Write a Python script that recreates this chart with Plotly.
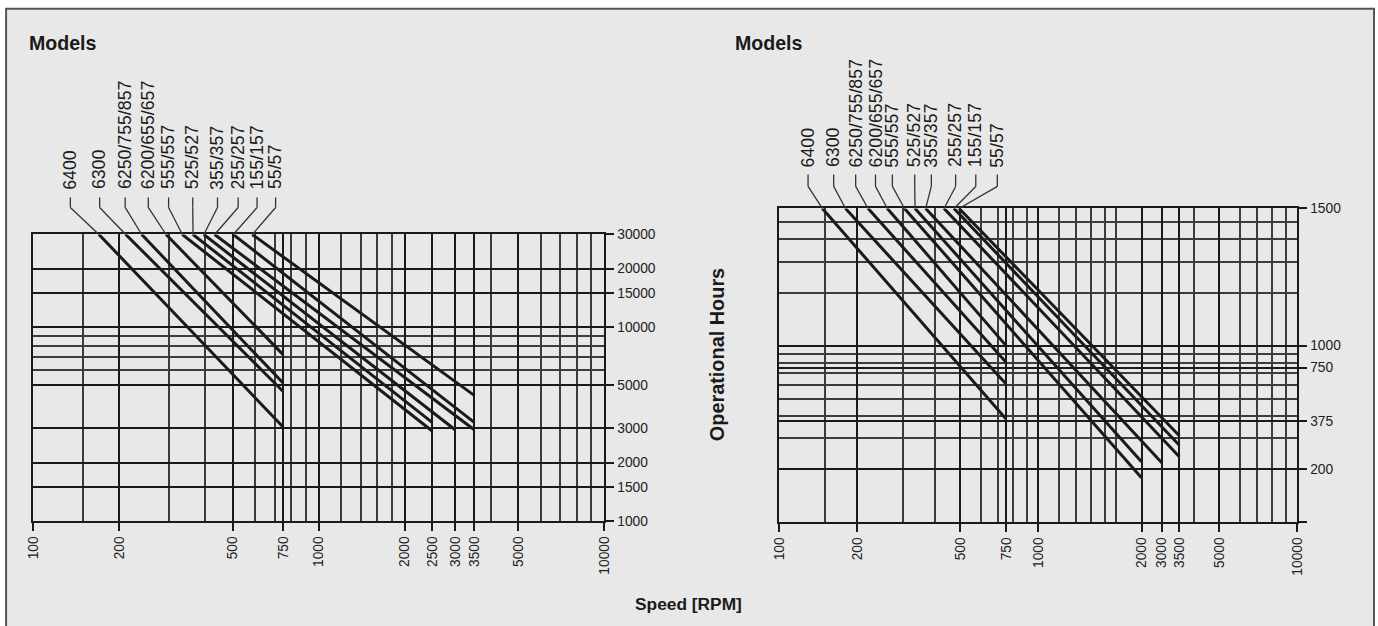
import math
import plotly.graph_objects as go

# The capture is a 1394x642 area with the page offset by 8px, shrunk to
# 1378x626.  Positions below are given in reference pixels and mapped back.
SX, SY = 1394 / 1378, 642 / 626
OFF = 8
W, H = 1386, 634
FS = 1.02

MODELS = ["6400", "6300", "6250/755/857", "6200/655/657", "555/557",
          "525/527", "355/357", "255/257", "155/157", "55/57"]

# left chart: life lines (rpm, hours)
LEFT_START_RPM = [170, 211, 240, 292, 333, 363, 396, 432, 502, 585]
LEFT_START_HRS = [30000] * 10
LEFT_END_RPM = [750, 750, 750, 750, 2500, 2500, 3000, 3500, 3500, 3500]
LEFT_END_HRS = [3050, 4650, 5140, 7200, 2900, 3210, 2950, 2950, 3220, 4440]

# right chart
RIGHT_START_RPM = [146.5, 180, 220, 261, 304, 334, 367, 432, 472, 494]
RIGHT_START_HRS = [6000] * 10
RIGHT_END_RPM = [750, 750, 750, 750, 2500, 2500, 3000, 3500, 3500, 3500]
RIGHT_END_HRS = [383, 606, 804, 1000, 178, 219, 216, 234, 272, 308]

# axes ticks
LEFT_X_TICKS = [100, 200, 500, 750, 1000, 2000, 2500, 3000, 3500, 5000, 10000]
LEFT_X_TEXT = ["100", "200", "500", "750", "1000", "2000", "2500", "3000", "3500", "5000", "10000"]
LEFT_X_MINOR = [150, 300, 400, 600, 700, 800, 900, 1200, 1400, 1600, 1800, 4000, 6000, 7000, 8000, 9000]
LEFT_Y_TICKS = [1000, 1500, 2000, 3000, 5000, 10000, 15000, 20000, 30000]
LEFT_Y_TEXT = ["1000", "1500", "2000", "3000", "5000", "10000", "15000", "20000", "30000"]
LEFT_Y_MINOR = [6000, 7000, 8000, 9000]

RIGHT_X_TICKS = [100, 200, 500, 750, 1000, 2500, 3000, 3500, 5000, 10000]
RIGHT_X_TEXT = ["100", "200", "500", "750", "1000", "2000", "3000", "3500", "5000", "10000"]
RIGHT_X_MINOR = [150, 300, 400, 600, 700, 800, 900, 1200, 1400, 1600, 1800, 2000, 4000, 6000, 7000, 8000, 9000]
RIGHT_Y_TICKS = [100, 200, 375, 750, 1000, 6000]
RIGHT_Y_TEXT = ["", "200", "375", "750", "1000", "1500"]
RIGHT_Y_MINOR = [300, 400, 500, 600, 700, 800, 900, 2000, 3000, 4000, 5000]

# label anchor positions (rpm along the x axis)
LEFT_LABEL_X = [135, 171, 210, 253, 298, 362, 442, 522, 608, 706]
RIGHT_LABEL_X = [129, 162, 197, 235, 273, 333, 386, 479, 573, 694]

FONT = "Liberation Sans, Arial, sans-serif"
INK = "#1a1a1a"


def px(x):
    # reference pixel -> paper fraction
    return (x * SX - OFF) / W


def py(y):
    return 1 - (y * SY - OFF) / H


fig = go.Figure()

for i, m in enumerate(MODELS):
    fig.add_trace(go.Scatter(
        x=[LEFT_START_RPM[i], LEFT_END_RPM[i]],
        y=[LEFT_START_HRS[i], LEFT_END_HRS[i]],
        mode="lines", line=dict(color=INK, width=3),
        xaxis="x", yaxis="y", name=m, showlegend=False, hoverinfo="skip"))
    fig.add_trace(go.Scatter(
        x=[RIGHT_START_RPM[i], RIGHT_END_RPM[i]],
        y=[RIGHT_START_HRS[i], RIGHT_END_HRS[i]],
        mode="lines", line=dict(color=INK, width=3),
        xaxis="x2", yaxis="y2", name=m, showlegend=False, hoverinfo="skip"))


def axis_common(tickvals, ticktext, minor_vals, rng, **kw):
    d = dict(
        type="log", range=rng, tickmode="array", tickvals=tickvals, ticktext=ticktext,
        showgrid=True, gridcolor=INK, gridwidth=2,
        showline=True, linecolor=INK, linewidth=2, mirror=True,
        ticks="outside", ticklen=8, tickwidth=2, tickcolor=INK,
        tickfont=dict(family=FONT, size=13.5 * FS, color="#222"),
        minor=dict(tickmode="array", tickvals=minor_vals, showgrid=True,
                   gridcolor="#3c3c3c", gridwidth=1.5, ticks=""),
        zeroline=False, fixedrange=True,
    )
    d.update(kw)
    return d


fig.update_layout(
    width=W, height=H,
    margin=dict(l=0, r=0, t=0, b=0),
    paper_bgcolor="white", plot_bgcolor="rgba(0,0,0,0)",
    xaxis=axis_common(LEFT_X_TICKS, LEFT_X_TEXT, LEFT_X_MINOR, [2, 4],
                      domain=[px(33), px(604)], anchor="y", tickangle=-90),
    yaxis=axis_common(LEFT_Y_TICKS, LEFT_Y_TEXT, LEFT_Y_MINOR, [3, math.log10(30000)],
                      domain=[py(521), py(235)], anchor="x", side="right"),
    xaxis2=axis_common(RIGHT_X_TICKS, RIGHT_X_TEXT, RIGHT_X_MINOR, [2, 4],
                       domain=[px(778.8), px(1296.5)], anchor="y2", tickangle=-90),
    yaxis2=axis_common(RIGHT_Y_TICKS, RIGHT_Y_TEXT, RIGHT_Y_MINOR, [2, math.log10(6000)],
                       domain=[py(522), py(209)], anchor="x2", side="right"),
)

shapes = [dict(type="rect", xref="paper", yref="paper", x0=px(6), x1=px(1373),
               y0=py(660), y1=py(9.5), fillcolor="#e8e8e8",
               line=dict(color="#555", width=2), layer="below")]
annotations = []

groups = [
    ("x", LEFT_LABEL_X, LEFT_START_RPM, 192, 198, 208, 235),
    ("x2", RIGHT_LABEL_X, RIGHT_START_RPM, 170, 175, 187, 209),
]
for xref, lab_x, start_x, text_bottom, l_top, l_bend, top in groups:
    for i, m in enumerate(MODELS):
        shapes.append(dict(type="line", xref=xref, yref="paper",
                           x0=lab_x[i], x1=lab_x[i], y0=py(l_top), y1=py(l_bend),
                           line=dict(color="#333", width=1.3)))
        shapes.append(dict(type="line", xref=xref, yref="paper",
                           x0=lab_x[i], x1=start_x[i], y0=py(l_bend), y1=py(top),
                           line=dict(color="#333", width=1.3)))
        annotations.append(dict(
            xref=xref, yref="paper", x=math.log10(lab_x[i]), y=py(text_bottom),
            text=m, showarrow=False, textangle=-90, xanchor="center", yanchor="bottom",
            font=dict(family=FONT, size=17.4 * FS, color=INK)))

for x0 in (27, 732):
    annotations.append(dict(xref="paper", yref="paper", x=px(x0), y=py(44),
                            text="<b>Models</b>", showarrow=False,
                            xanchor="left", yanchor="middle",
                            font=dict(family=FONT, size=19.2 * FS, color=INK)))
annotations.append(dict(xref="paper", yref="paper", x=px(716), y=py(355),
                        text="<b>Operational Hours</b>", showarrow=False, textangle=-90,
                        xanchor="center", yanchor="middle",
                        font=dict(family=FONT, size=19.5 * FS, color=INK)))
annotations.append(dict(xref="paper", yref="paper", x=px(688), y=py(604),
                        text="<b>Speed [RPM]</b>", showarrow=False,
                        xanchor="center", yanchor="middle",
                        font=dict(family=FONT, size=17 * FS, color=INK)))

fig.update_layout(shapes=shapes, annotations=annotations)

fig.write_html("out.html", config={"displayModeBar": False},
               post_script="document.body.style.margin='0';")
